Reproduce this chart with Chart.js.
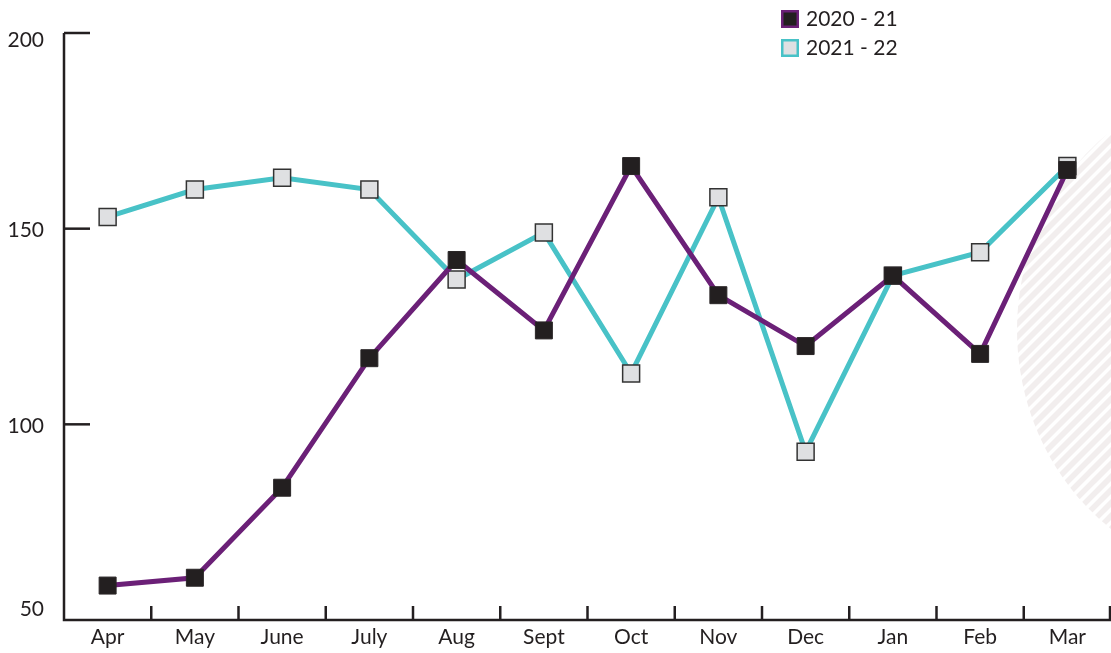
<!DOCTYPE html>
<html>
<head>
<meta charset="utf-8">
<title>Monthly comparison 2020-21 vs 2021-22</title>
<script src="https://cdn.jsdelivr.net/npm/chart.js@4/dist/chart.umd.min.js"></script>
<style>
  html, body { margin: 0; padding: 0; background: #ffffff; }
  #wrap { width: 1111px; height: 653px; position: relative; }
  canvas { display: block; }
</style>
</head>
<body>
<div id="wrap"><canvas id="chart" width="1111" height="653"></canvas></div>
<script>
// Months of the financial year
const categories = ['Apr', 'May', 'June', 'July', 'Aug', 'Sept', 'Oct', 'Nov', 'Dec', 'Jan', 'Feb', 'Mar'];
// Series values
const values2020_21 = [58.8, 60.8, 83.8, 116.9, 142, 124, 166, 133, 120, 138, 118, 165];
const values2021_22 = [153, 160, 163, 160, 137, 149, 113, 158, 93, 138, 144, 166];
// Series names
const seriesNames = ['2020 - 21', '2021 - 22'];
// Value-axis tick labels
const yTicks = [50, 100, 150, 200];

const INK = '#231f20';
const FONT = '21px Lato, "Open Sans", sans-serif';

// Light diagonal hatching in an oval at the right edge, behind the lines
const hatchPlugin = {
  id: 'hatch',
  beforeDatasetsDraw(chart) {
    const ctx = chart.ctx;
    ctx.save();
    ctx.beginPath();
    ctx.ellipse(1250, 330, 233, 248, 0, 0, Math.PI * 2);
    ctx.clip();
    ctx.strokeStyle = '#f2eeee';
    ctx.lineWidth = 5.5;
    for (let k = -800; k < 800; k += 13) {
      ctx.beginPath();
      ctx.moveTo(900, 330 + k + 300);
      ctx.lineTo(1200, 330 + k);
      ctx.stroke();
    }
    ctx.restore();
  }
};

// Axes: L-shaped frame, inward ticks on the value axis, upward ticks between months
const axesPlugin = {
  id: 'axesFrame',
  beforeDatasetsDraw(chart) {
    const ctx = chart.ctx;
    const x = chart.scales.x, y = chart.scales.y;
    const area = chart.chartArea;
    const step = x.getPixelForValue(1) - x.getPixelForValue(0);
    ctx.save();
    ctx.strokeStyle = INK;
    ctx.lineWidth = 2.5;
    ctx.lineCap = 'butt';
    ctx.beginPath();
    ctx.moveTo(area.left, y.getPixelForValue(200));
    ctx.lineTo(area.left, y.getPixelForValue(50));
    ctx.lineTo(area.right, y.getPixelForValue(50));
    ctx.stroke();

    // value ticks pointing into the plot
    yTicks.forEach(v => {
      if (v === 50) return;
      const py = y.getPixelForValue(v);
      ctx.beginPath();
      ctx.moveTo(area.left, py);
      ctx.lineTo(area.left + 26, py);
      ctx.stroke();
    });

    // month separators pointing up from the baseline
    const base = y.getPixelForValue(50);
    for (let i = 0; i < categories.length; i++) {
      const sx = Math.min(x.getPixelForValue(i) + step / 2, area.right - 1);
      ctx.beginPath();
      ctx.moveTo(sx, base);
      ctx.lineTo(sx, base - 14);
      ctx.stroke();
    }

    // labels
    ctx.fillStyle = INK;
    ctx.font = FONT;
    ctx.textAlign = 'right';
    ctx.textBaseline = 'middle';
    yTicks.forEach(v => {
      let py = y.getPixelForValue(v);
      py = Math.max(area.top + 7, Math.min(area.bottom - 11, py + 2));
      ctx.fillText(String(v), 44, py);
    });
    ctx.textAlign = 'center';
    categories.forEach((c, i) => {
      ctx.fillText(c, x.getPixelForValue(i), base + 17);
    });
    ctx.restore();
  }
};

// Stacked legend in the top right
const legendPlugin = {
  id: 'stackLegend',
  afterDraw(chart) {
    const ctx = chart.ctx;
    ctx.save();
    ctx.font = FONT;
    ctx.textAlign = 'left';
    ctx.textBaseline = 'middle';
    chart.data.datasets.forEach((ds, i) => {
      const top = 10 + i * 29;
      ctx.fillStyle = ds.pointBackgroundColor;
      ctx.fillRect(781, top, 18, 18);
      ctx.strokeStyle = ds.borderColor;
      ctx.lineWidth = 2.5;
      ctx.strokeRect(782.25, top + 1.25, 15.5, 15.5);
      ctx.fillStyle = INK;
      ctx.fillText(ds.label, 806, top + 9.5);
    });
    ctx.restore();
  }
};

new Chart(document.getElementById('chart'), {
  type: 'line',
  data: {
    labels: categories,
    datasets: [
      {
        label: seriesNames[0],
        data: values2020_21,
        borderColor: '#6b2077',
        backgroundColor: '#231f20',
        borderWidth: 5,
        tension: 0,
        pointStyle: 'rect',
        pointRadius: 12,
        pointHoverRadius: 12,
        pointBackgroundColor: '#231f20',
        pointBorderColor: '#2a2627',
        pointBorderWidth: 1
      },
      {
        label: seriesNames[1],
        data: values2021_22,
        borderColor: '#48c2c7',
        backgroundColor: '#dfe0e2',
        borderWidth: 5,
        tension: 0,
        pointStyle: 'rect',
        pointRadius: 12,
        pointHoverRadius: 12,
        pointBackgroundColor: '#dfe0e2',
        pointBorderColor: '#333333',
        pointBorderWidth: 1.5
      }
    ]
  },
  options: {
    responsive: false,
    animation: false,
    events: [],
    layout: { autoPadding: false, padding: { left: 64, right: 0, top: 33, bottom: 33 } },
    plugins: { legend: { display: false }, tooltip: { enabled: false } },
    scales: {
      x: { type: 'category', offset: true, display: false },
      y: { min: 50, max: 200, display: false }
    }
  },
  plugins: [hatchPlugin, axesPlugin, legendPlugin]
});
</script>
</body>
</html>
